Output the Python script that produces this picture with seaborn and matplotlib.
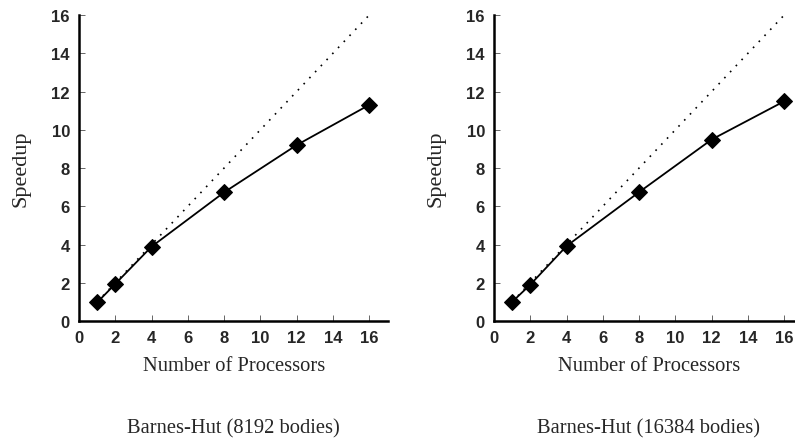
import matplotlib
matplotlib.use("Agg")
import matplotlib.pyplot as plt
import seaborn as sns
import pandas as pd

processors = [1, 2, 4, 8, 12, 16]
speedup_8192 = [0.97, 1.94, 3.89, 6.73, 9.2, 11.3]
speedup_16384 = [1.0, 1.9, 3.92, 6.74, 9.49, 11.49]
ideal_x = [1, 16]
ideal_y = [1, 16]
titles = ["Barnes-Hut (8192 bodies)", "Barnes-Hut (16384 bodies)"]
ticks = [0, 2, 4, 6, 8, 10, 12, 14, 16]

sns.set_theme(style="ticks")
plt.rcParams["font.family"] = ["Liberation Sans", "DejaVu Sans"]
serif = ["Liberation Serif", "DejaVu Serif"]

fig = plt.figure(figsize=(7.95, 4.39), dpi=100)
lefts = [0.0994, 0.6214]
series = [speedup_8192, speedup_16384]

for left, ys, title in zip(lefts, series, titles):
    ax = fig.add_axes([left, 0.2665, 0.389, 0.697])
    ideal = pd.DataFrame({"x": ideal_x, "y": ideal_y})
    sns.lineplot(data=ideal, x="x", y="y", ax=ax, color="black",
                 linestyle=(0, (1, 4)), linewidth=1.2)
    df = pd.DataFrame({"x": processors, "y": ys})
    sns.lineplot(data=df, x="x", y="y", ax=ax, color="black", linewidth=1.3,
                 marker="D", markersize=8, markeredgecolor="black",
                 markerfacecolor="black")
    ax.set_xlim(0, 17.05)
    ax.set_ylim(0, 16)
    ax.set_xticks(ticks)
    ax.set_yticks(ticks)
    ax.set_xticklabels([str(t) for t in ticks], fontweight="bold", fontsize=12)
    ax.set_yticklabels([str(t) for t in ticks], fontweight="bold", fontsize=12)
    ax.tick_params(direction="in", length=4, width=0.7, color="#666666", pad=6.5)
    sns.despine(ax=ax)
    for s in ["left", "bottom"]:
        ax.spines[s].set_linewidth(1.8)
        ax.spines[s].set_color("black")
    ax.set_xlabel("Number of Processors", fontsize=14.8, family=serif, labelpad=8)
    ax.set_ylabel("Speedup", fontsize=16, family=serif, labelpad=15)
    cx = left + 0.389 / 2
    fig.text(cx, 0.012, title, ha="center", va="baseline",
             fontsize=14.8, family=serif)

fig.savefig("out.png", dpi=100)
